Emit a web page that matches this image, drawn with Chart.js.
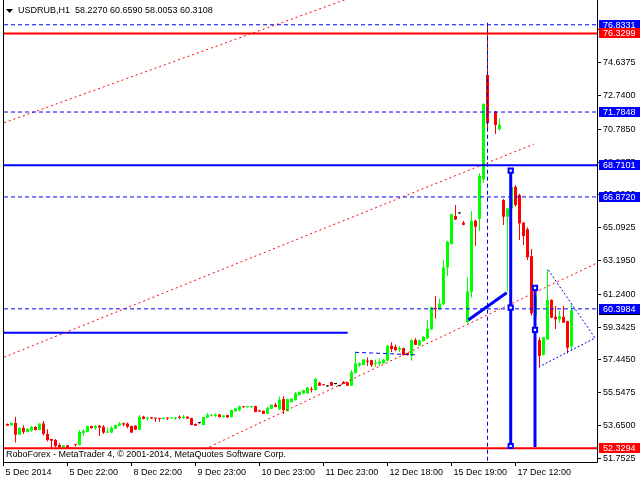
<!DOCTYPE html>
<html>
<head>
<meta charset="utf-8">
<title>USDRUB,H1</title>
<script src="https://cdn.jsdelivr.net/npm/chart.js@4.4.1/dist/chart.umd.min.js"></script>
<style>
    html, body { margin: 0; padding: 0; background: #ffffff; }
    #wrap { width: 640px; height: 480px; }
</style>
</head>
<body>
<div id="wrap"><canvas id="usdrubChart" width="640" height="480"></canvas></div>
<script>
// USDRUB H1 bars. Position in the array = bar number.
// Bar 0 is cut by the left edge, bar 122 is not visible.
const opens = [null,
    53.74, 53.66, 53.80, 53.12, 53.51, 53.28, 53.35, 53.57, 53.39, 53.76,
    53.16, 52.87, 52.81, 52.52, 52.39, 52.50, 52.36, 52.55, 52.52, 53.22,
    53.28, 53.62, 53.51, 53.64, 53.58, 53.24, 53.24, 53.47, 53.64, 53.78,
    53.76, 53.62, 53.64, 53.41, 54.16, 54.05, 54.12, 54.08, 54.07, 54.03,
    54.08, 54.07, 54.05, 54.16, 54.08, 54.16, 54.08, 53.74, 53.79, 53.68,
    54.10, 54.22, 54.20, 54.29, 54.14, 54.25, 54.14, 54.48, 54.54, 54.73,
    54.71, 54.72, 54.77, 54.52, 54.50, 54.33, 54.62, 54.85, 54.58, 55.18,
    54.48, 55.00, 55.12, 55.41, 55.51, 55.51, 55.74, 55.70, 56.12, 56.00,
    55.91, 56.16, 56.05, 55.93, 56.16, 56.14, 55.95, 56.70, 57.12, 57.15,
    57.38, 57.43, 57.22, 57.24, 57.24, 57.40, 58.27, 58.21, 58.03, 58.13,
    57.84, 57.69, 58.59, 58.28, 58.53, 58.69, 59.21, 60.46, 60.37, 60.67,
    62.80, 64.15, 65.77, 65.92, 65.38, 59.63, 61.39, 65.50, 65.60, 67.89,
    73.93, null, 71.81, 70.79, 66.69, 65.73, 66.21, 67.46, 66.98, 65.38,
    65.00, 63.45, 60.00, 58.59, 57.73, 58.63, 60.91, 59.94, 59.79, 59.94,
    59.69, 58.2270];

const highs = [null,
    53.76, 53.81, 54.16, 53.55, 53.66, 53.49, 53.62, 53.60, 53.78, 53.91,
    53.43, 52.89, 52.87, 52.62, 52.52, 52.52, 52.38, 52.56, 53.39, 53.43,
    53.64, 53.64, 53.68, 53.68, 53.66, 53.53, 53.62, 53.70, 53.85, 53.83,
    53.83, 53.64, 53.66, 54.26, 54.22, 54.14, 54.14, 54.10, 54.08, 54.12,
    54.12, 54.14, 54.14, 54.24, 54.26, 54.18, 54.10, 53.76, 53.80, 54.16,
    54.39, 54.30, 54.36, 54.31, 54.26, 54.27, 54.58, 54.66, 54.81, 54.75,
    54.77, 54.76, 54.79, 54.56, 54.52, 54.70, 54.87, 54.97, 55.33, 55.35,
    55.20, 55.22, 55.60, 55.62, 55.72, 55.87, 55.89, 56.41, 56.18, 56.02,
    55.92, 56.18, 56.06, 55.94, 56.22, 56.16, 56.86, 57.88, 57.30, 57.49,
    57.59, 57.45, 57.47, 57.53, 57.49, 58.29, 58.46, 58.34, 58.25, 58.15,
    57.86, 58.63, 58.71, 58.63, 58.81, 59.75, 60.52, 61.14, 60.98, 63.22,
    64.34, 65.92, 66.40, 65.93, 65.48, 62.22, 66.04, 65.55, 68.25, 72.30,
    76.8331, null, 71.85, 71.42, 66.75, 66.25, 67.70, 67.56, 67.05, 65.42,
    65.10, 63.86, 61.30, 58.75, 58.75, 62.68, 60.95, 60.56, 60.27, 60.56,
    59.71, 60.6590];

const lows = [null,
    53.63, 53.65, 52.66, 53.10, 53.16, 53.24, 53.31, 53.36, 53.37, 53.08,
    52.72, 52.31, 52.39, 52.33, 52.37, 52.30, 52.29, 52.43, 52.50, 53.04,
    53.26, 53.47, 53.39, 53.04, 53.16, 53.22, 53.22, 53.45, 53.62, 53.60,
    53.49, 53.22, 53.39, 53.39, 54.01, 53.93, 54.03, 53.85, 53.87, 54.01,
    53.97, 54.05, 53.97, 54.01, 54.03, 54.03, 53.66, 53.62, 53.77, 53.66,
    54.08, 54.18, 54.14, 54.12, 54.12, 54.10, 54.12, 54.46, 54.48, 54.67,
    54.67, 54.68, 54.41, 54.44, 54.31, 54.31, 54.60, 54.71, 54.56, 54.31,
    54.46, 54.98, 55.10, 55.39, 55.49, 55.49, 55.56, 55.66, 55.93, 55.97,
    55.90, 55.93, 56.04, 55.92, 56.03, 55.93, 55.93, 56.61, 57.05, 57.13,
    57.09, 57.05, 57.05, 57.09, 57.22, 57.38, 57.90, 57.94, 57.90, 57.70,
    57.70, 57.40, 58.30, 58.26, 58.51, 58.67, 59.19, 59.83, 60.35, 60.62,
    62.30, 64.10, 65.53, 65.91, 65.24, 59.56, 61.06, 64.03, 64.90, 67.70,
    70.75, null, 70.52, 70.70, 65.25, 61.39, 66.15, 66.30, 64.38, 64.09,
    63.22, 60.00, 59.90, 57.01, 57.70, 58.60, 59.85, 59.23, 59.60, 59.58,
    57.82, 58.0053];

const closes = [null,
    53.64, 53.80, 53.12, 53.51, 53.28, 53.45, 53.57, 53.39, 53.76, 53.16,
    52.81, 52.77, 52.46, 52.39, 52.50, 52.33, 52.32, 52.53, 53.27, 53.35,
    53.62, 53.49, 53.62, 53.53, 53.24, 53.29, 53.51, 53.68, 53.78, 53.70,
    53.58, 53.24, 53.41, 54.14, 54.03, 54.12, 54.05, 54.05, 54.03, 54.10,
    54.05, 54.12, 54.12, 54.10, 54.16, 54.05, 53.68, 53.64, 53.79, 54.14,
    54.26, 54.26, 54.28, 54.14, 54.23, 54.12, 54.54, 54.64, 54.75, 54.71,
    54.73, 54.74, 54.43, 54.46, 54.33, 54.68, 54.85, 54.73, 55.14, 54.54,
    55.18, 55.20, 55.51, 55.60, 55.70, 55.85, 55.70, 56.34, 55.95, 55.98,
    55.91, 55.95, 56.05, 55.93, 56.05, 55.95, 56.74, 57.24, 57.24, 57.47,
    57.34, 57.13, 57.26, 57.34, 57.47, 58.27, 58.07, 58.01, 58.13, 57.72,
    57.72, 58.59, 58.32, 58.57, 58.79, 59.25, 60.48, 60.39, 60.71, 62.80,
    64.28, 65.88, 65.57, 65.92, 65.26, 61.41, 65.48, 65.15, 68.10, 72.25,
    71.13, null, 71.04, 71.04, 65.73, 66.21, 67.46, 66.40, 65.34, 64.61,
    63.38, 60.14, 61.10, 57.67, 58.75, 60.91, 59.89, 59.79, 59.98, 59.60,
    58.15, 60.3108];

// time axis: bar number of each label and its text
const timeTickBars = [0, 16, 32, 48, 64, 80, 96, 112, 128];
const timeTickLabels = ['5 Dec 2014', '5 Dec 22:00', '8 Dec 22:00', '9 Dec 23:00', '10 Dec 23:00',
    '11 Dec 23:00', '12 Dec 18:00', '15 Dec 19:00', '17 Dec 12:00'];

// price axis ticks as MT4 printed them
const priceTicks = [51.7525, 53.6500, 55.5475, 57.4450, 59.3425, 61.2400, 63.1950,
    65.0925, 66.9900, 68.8875, 70.7850, 72.7400, 74.6375, 76.5350];

// horizontal levels
const blueDashLevels = [76.8331, 71.7848, 66.8720, 60.3984];
const blueSolidLevels = [68.7101];
const redLevels = [76.3299, 52.3294];

// drawn objects, [bar, price] anchors
const channelUpper = [[0.125, 71.16], [89.125, 78.59]];
const channelMiddle = [[0.125, 57.60], [132.6, 69.93]];
const channelLower = [[50.375, 52.29], [148.375, 63.05]];
const oldSupport = [[0.125, 59.02], [86.05, 59.02]];
const flatTop = [[87.9, 57.885], [103.6, 57.73]];
const waveUp = [[116.2, 59.753], [125.8, 61.333]];
const waveDownA = [[126.8, 68.39], [126.8, 52.464]];
const waveDownB = [[132.875, 61.68], [132.875, 52.41]];
const waveAnchors = [[126.8, 68.39], [126.8, 60.465], [126.8, 52.464], [132.875, 61.605], [132.875, 59.175]];
const spikeMarker = [[121, 76.95], [121, 51.5]];
const triangle = [[136.2, 62.646], [147.875, 58.712], [133.95, 57.052]];

const BULL = '#00ff00';
const BEAR = '#ff0000';
const DOJI = '#000000';
const BLUE = '#0000ff';
const FONT = '"Liberation Sans", Arial, sans-serif';

document.addEventListener('DOMContentLoaded', function () {
    const firstBar = 0.125;
    const lastBar = 148.375;

    function candleSets() {
        const wicks = [];
        const bodies = [];
        const colors = [];
        for (let i = 0; i < opens.length; i++) {
            if (opens[i] === null) continue;
            wicks.push({ x: i, y: [lows[i], highs[i]] });
            bodies.push({ x: i, y: [opens[i], closes[i]] });
            if (closes[i] > opens[i]) colors.push(BULL);
            else if (closes[i] < opens[i]) colors.push(BEAR);
            else colors.push(DOJI);
        }
        return [
            { type: 'bar', data: bodies, backgroundColor: colors, barThickness: 3, grouped: false,
              minBarLength: 1, inflateAmount: 0, borderWidth: 0, order: 2 },
            { type: 'bar', data: wicks, backgroundColor: colors, barThickness: 1, grouped: false,
              minBarLength: 1, inflateAmount: 0, borderWidth: 0, order: 3 }
        ];
    }

    function lineSet(points, color, width, dash) {
        return {
            type: 'line',
            data: points.map(p => ({ x: p[0], y: p[1] })),
            borderColor: color,
            borderWidth: width,
            borderDash: dash || [],
            pointRadius: 0,
            fill: false,
            tension: 0,
            clip: 0,
            order: 1
        };
    }

    const datasets = [];
    blueDashLevels.forEach(v => datasets.push(lineSet([[firstBar, v], [lastBar, v]], BLUE, 1, [4, 3])));
    blueSolidLevels.forEach(v => datasets.push(lineSet([[firstBar, v], [lastBar, v]], BLUE, 2)));
    redLevels.forEach(v => datasets.push(lineSet([[firstBar, v], [lastBar, v]], BEAR, 2)));
    datasets.push(lineSet(channelUpper, BEAR, 1, [2, 3]));
    datasets.push(lineSet(channelMiddle, BEAR, 1, [2, 3]));
    datasets.push(lineSet(channelLower, BEAR, 1, [2, 3]));
    datasets.push(lineSet(oldSupport, BLUE, 2));
    datasets.push(lineSet(flatTop, BLUE, 1, [4, 3]));
    datasets.push(lineSet(spikeMarker, BLUE, 1, [4, 3]));
    datasets.push(lineSet(triangle, BLUE, 1, [2, 2]));
    datasets.push(lineSet(waveUp, BLUE, 3));
    datasets.push(lineSet(waveDownA, BLUE, 3));
    datasets.push(lineSet(waveDownB, BLUE, 3));
    datasets.push({
        type: 'line',
        data: waveAnchors.map(p => ({ x: p[0], y: p[1] })),
        showLine: false,
        pointStyle: 'rect',
        pointRadius: 3,
        pointBorderWidth: 2,
        pointBorderColor: BLUE,
        pointBackgroundColor: '#ffffff',
        clip: 0,
        order: 0
    });
    candleSets().forEach(d => datasets.push(d));

    // frame, title, copyright and the coloured price labels on the right
    const mtDecor = {
        id: 'mtDecor',
        afterDraw(chart) {
            const ctx = chart.ctx;
            const area = chart.chartArea;
            const yScale = chart.scales.y;
            ctx.save();

            ctx.strokeStyle = '#000';
            ctx.lineWidth = 1;
            ctx.beginPath();
            ctx.moveTo(3.5, 0);
            ctx.lineTo(3.5, area.bottom + 0.5);
            ctx.lineTo(area.right + 0.5, area.bottom + 0.5);
            ctx.lineTo(area.right + 0.5, 0);
            ctx.stroke();

            ctx.fillStyle = '#000';
            ctx.beginPath();
            ctx.moveTo(6, 9);
            ctx.lineTo(13, 9);
            ctx.lineTo(9.5, 13);
            ctx.closePath();
            ctx.fill();

            ctx.font = '9px ' + FONT;
            ctx.textBaseline = 'middle';
            ctx.textAlign = 'left';
            const last = opens.length - 1;
            ctx.fillText('USDRUB,H1  ' + [opens[last], highs[last], lows[last], closes[last]]
                .map(v => v.toFixed(4)).join(' '), 18, 11);
            ctx.fillText('RoboForex - MetaTrader 4, \u00a9 2001-2014, MetaQuotes Software Corp.', 6, 455);

            function priceBox(price, fill) {
                const y = Math.round(yScale.getPixelForValue(price));
                ctx.fillStyle = fill;
                ctx.fillRect(599, y - 5, 41, 10);
                ctx.fillStyle = '#ffffff';
                ctx.fillText(price.toFixed(4), 603, y + 0.5);
            }
            priceBox(closes[last], '#000000');
            blueDashLevels.forEach(v => priceBox(v, BLUE));
            blueSolidLevels.forEach(v => priceBox(v, BLUE));
            redLevels.forEach(v => priceBox(v, BEAR));
            ctx.restore();
        }
    };

    const ctx = document.getElementById('usdrubChart').getContext('2d');
    new Chart(ctx, {
        type: 'bar',
        data: { datasets: datasets },
        options: {
            responsive: false,
            animation: false,
            events: [],
            layout: { autoPadding: false, padding: { left: 4, top: 0, right: 0, bottom: 0 } },
            plugins: {
                legend: { display: false },
                tooltip: { enabled: false }
            },
            scales: {
                x: {
                    type: 'linear',
                    position: 'bottom',
                    offset: false,
                    min: firstBar,
                    max: lastBar,
                    border: { display: false },
                    grid: { offset: false, drawOnChartArea: false, drawTicks: true, tickLength: 4, color: '#000' },
                    afterBuildTicks: function (scale) {
                        scale.ticks = timeTickBars.map(v => ({ value: v }));
                    },
                    afterFit: function (scale) {
                        scale.height = 18;
                        scale.paddingLeft = 0;
                        scale.paddingRight = 0;
                    },
                    ticks: {
                        autoSkip: false,
                        maxRotation: 0,
                        align: 'start',
                        labelOffset: 2,
                        padding: 1,
                        color: '#000',
                        font: { family: FONT, size: 9 },
                        callback: (value, index) => timeTickLabels[index]
                    }
                },
                y: {
                    type: 'linear',
                    position: 'right',
                    min: 51.5385,
                    max: 78.2655,
                    border: { display: false },
                    grid: { drawOnChartArea: false, drawTicks: true, tickLength: 4, color: '#000' },
                    afterBuildTicks: function (scale) {
                        scale.ticks = priceTicks.map(v => ({ value: v }));
                    },
                    afterFit: function (scale) {
                        scale.width = 43;
                        scale.paddingTop = 0;
                        scale.paddingBottom = 0;
                    },
                    ticks: {
                        autoSkip: false,
                        padding: 2,
                        color: '#000',
                        font: { family: FONT, size: 9 },
                        callback: value => value.toFixed(4)
                    }
                }
            }
        },
        plugins: [mtDecor]
    });
});
</script>
</body>
</html>
